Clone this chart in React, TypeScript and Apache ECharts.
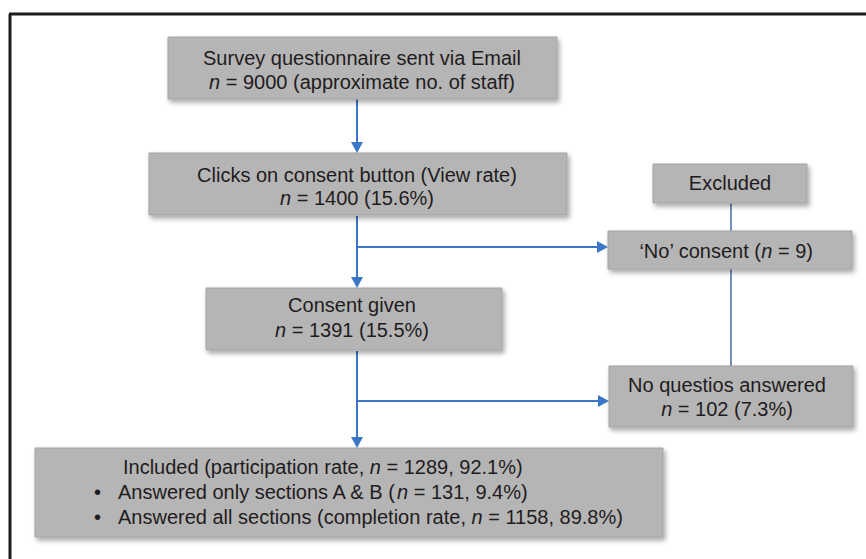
import React, { useEffect, useRef } from "react";
import * as echarts from "echarts";

// ---- data ----
const stageTitles = ["Survey questionnaire sent via Email", "Clicks on consent button (View rate)", "Consent given"];
const stageCounts = [9000, 1400, 1391];
const stageNotes = ["approximate no. of staff", "15.6%", "15.5%"];
const excludedHeader = "Excluded";
const excludedTitles = ["‘No’ consent", "No questios answered"];
const excludedCounts = [9, 102];
const excludedNotes = ["", "7.3%"];
const includedTitle = "Included (participation rate";
const includedCount = 1289;
const includedPct = "92.1%";
const breakdownTitles = ["Answered only sections A & B", "Answered all sections"];
const breakdownQualifiers = ["", "completion rate"];
const breakdownCounts = [131, 1158];
const breakdownPcts = ["9.4%", "89.8%"];

// ---- layout (positions & sizes) ----
const FONT = '"Liberation Sans", Arial, Helvetica, sans-serif';
const FS = 20;
const TEXT = "#1f1c1d";
const BLUE = "#3b77c6";
const stageBoxes = [
  { x: 168, y: 37, w: 389, h: 62, cx: 362, l1: 58, l2: 82 },
  { x: 149, y: 153, w: 418, h: 62, cx: 357, l1: 175, l2: 198 },
  { x: 206, y: 288, w: 296, h: 62, cx: 352, l1: 305, l2: 330 },
];
const headerBox = { x: 653, y: 164, w: 154, h: 39, cx: 730, l1: 183 };
const exclBoxes = [
  { x: 608, y: 231, w: 244, h: 38, cx: 726, l1: 251, l2: 0 },
  { x: 609, y: 366, w: 244, h: 61, cx: 727, l1: 385, l2: 409 },
];
const inclBox = { x: 35, y: 448, w: 628, h: 89 };

function richStyle(text: string, x: number, y: number, align: string) {
  return {
    type: "text",
    x,
    y,
    z: 10,
    style: {
      text,
      fill: TEXT,
      fontSize: FS,
      fontFamily: FONT,
      align,
      verticalAlign: "middle",
      textAlign: align,
      textVerticalAlign: "middle",
      rich: {
        i: { fontStyle: "italic", fontSize: FS, fontFamily: FONT, fill: TEXT },
      },
    },
  };
}

function box(b: { x: number; y: number; w: number; h: number }) {
  return {
    type: "rect",
    z: 5,
    shape: { x: b.x, y: b.y, width: b.w, height: b.h },
    style: {
      fill: "#b5b5b5",
      stroke: "#a3a3a3",
      lineWidth: 1,
      shadowBlur: 5,
      shadowOffsetX: 2,
      shadowOffsetY: 3,
      shadowColor: "rgba(0,0,0,0.35)",
    },
  };
}

function vArrow(x: number, y1: number, y2: number) {
  return [
    { type: "line", z: 3, shape: { x1: x, y1, x2: x, y2: y2 - 8 }, style: { stroke: BLUE, lineWidth: 2 } },
    {
      type: "polygon",
      z: 6,
      shape: { points: [[x - 6, y2 - 11], [x + 6, y2 - 11], [x, y2]] },
      style: { fill: BLUE },
    },
  ];
}

function hArrow(x1: number, x2: number, y: number) {
  return [
    { type: "line", z: 3, shape: { x1, y1: y, x2: x2 - 8, y2: y }, style: { stroke: BLUE, lineWidth: 2 } },
    {
      type: "polygon",
      z: 6,
      shape: { points: [[x2 - 11, y - 6], [x2 - 11, y + 6], [x2, y]] },
      style: { fill: BLUE },
    },
  ];
}

export default function App() {
  const ref = useRef<HTMLDivElement>(null);
  useEffect(() => {
    document.body.style.margin = "0";
    const chart = echarts.init(ref.current!, null, { renderer: "svg" });
    const els: any[] = [];
    // frame
    els.push({ type: "line", z: 1, shape: { x1: 9, y1: 14, x2: 866, y2: 14 }, style: { stroke: "#1c1c1c", lineWidth: 3 } });
    els.push({ type: "line", z: 1, shape: { x1: 10, y1: 14, x2: 10, y2: 559 }, style: { stroke: "#1c1c1c", lineWidth: 3 } });
    // connector behind exclusion boxes
    els.push({ type: "line", z: 2, shape: { x1: 731, y1: 203, x2: 731, y2: 366 }, style: { stroke: "#4a6aa6", lineWidth: 1.5 } });
    // arrows
    const ax = 357;
    els.push(...vArrow(ax, 99, 153));
    els.push(...vArrow(ax, 216, 288));
    els.push(...hArrow(ax, 608, 247));
    els.push(...vArrow(ax, 351, 448));
    els.push(...hArrow(ax, 609, 401));
    // stage boxes
    stageBoxes.forEach((b, i) => {
      els.push(box(b));
      els.push(richStyle(stageTitles[i], b.cx, b.l1, "center"));
      els.push(richStyle(`{i|n} = ${stageCounts[i]} (${stageNotes[i]})`, b.cx, b.l2, "center"));
    });
    // excluded header
    els.push(box(headerBox));
    els.push(richStyle(excludedHeader, headerBox.cx, headerBox.l1, "center"));
    // exclusion boxes
    els.push(box(exclBoxes[0]));
    els.push(richStyle(`${excludedTitles[0]} ({i|n} = ${excludedCounts[0]})`, exclBoxes[0].cx, exclBoxes[0].l1, "center"));
    els.push(box(exclBoxes[1]));
    els.push(richStyle(excludedTitles[1], exclBoxes[1].cx, exclBoxes[1].l1, "center"));
    els.push(richStyle(`{i|n} = ${excludedCounts[1]} (${excludedNotes[1]})`, exclBoxes[1].cx, exclBoxes[1].l2, "center"));
    // included
    els.push(box(inclBox));
    els.push(richStyle(`${includedTitle}, {i|n} = ${includedCount}, ${includedPct})`, 123, 467, "left"));
    const bys = [492, 517];
    breakdownTitles.forEach((t, i) => {
      const q = breakdownQualifiers[i] ? `${breakdownQualifiers[i]}, ` : "";
      els.push(richStyle("•", 94, bys[i], "left"));
      els.push(richStyle(`${t} (${q}{i|n} = ${breakdownCounts[i]}, ${breakdownPcts[i]})`, 118, bys[i], "left"));
    });

    chart.setOption({
      animation: false,
      backgroundColor: "#ffffff",
      graphic: { elements: els },
    });
    return () => chart.dispose();
  }, []);
  return <div ref={ref} style={{ width: 866, height: 559 }} />;
}
